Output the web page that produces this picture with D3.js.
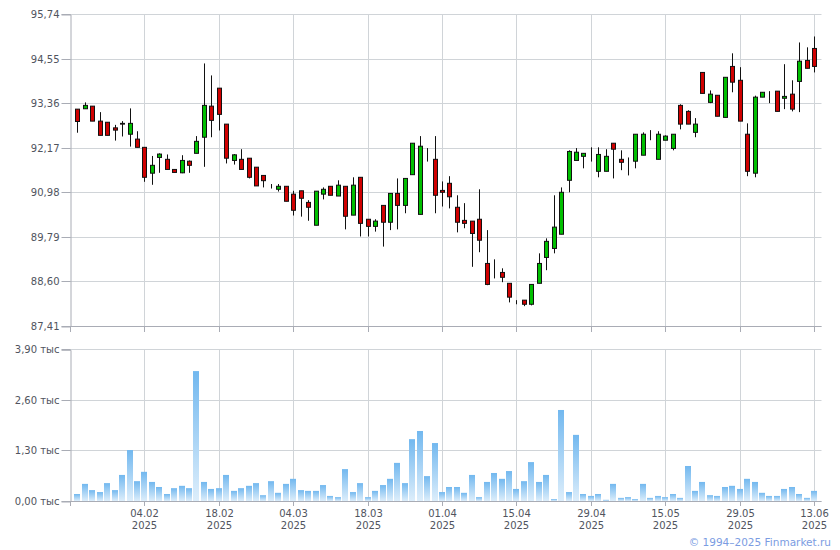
<!DOCTYPE html>
<html>
<head>
<meta charset="utf-8">
<script src="https://cdn.jsdelivr.net/npm/d3@7"></script>
<style>
html,body{margin:0;padding:0;background:#fff;}
svg{display:block;}
text{font-family:"DejaVu Sans",Verdana,sans-serif;}
</style>
</head>
<body>
<svg id="chart" width="840" height="550"></svg>
<script>
// ---- data (trading day index 1..100) ----
const opens = [93.20,93.21,93.28,92.88,92.85,92.70,92.82,92.53,92.40,92.18,
91.49,91.91,91.86,91.59,91.50,91.81,92.02,92.45,93.28,93.76,
92.80,91.83,91.86,91.89,91.65,91.43,91.20,91.06,91.14,90.93,
91.02,90.71,90.10,90.93,91.14,90.88,91.14,90.37,91.38,90.26,
90.07,90.63,90.18,90.95,90.63,91.45,90.39,91.82,91.86,91.03,
91.22,90.58,90.23,90.21,90.26,89.08,88.71,88.84,88.55,88.10,
88.10,87.99,88.55,89.24,89.48,89.86,91.30,91.83,91.94,92.18,
91.54,91.54,92.29,91.86,91.65,91.81,91.97,92.53,91.86,92.37,
92.15,93.30,93.14,92.58,94.18,93.38,93.57,92.98,94.34,93.97,
92.53,91.49,93.52,93.57,93.68,93.49,93.60,93.94,94.50,94.82];
const highs = [93.20,93.38,93.28,93.12,92.85,92.78,92.88,93.22,92.61,92.18,
91.95,92.02,91.99,91.59,91.97,91.83,92.48,94.42,94.10,93.76,
92.80,92.00,92.13,91.89,91.65,91.43,91.20,91.20,91.14,91.02,
91.02,90.77,91.01,91.11,91.14,91.30,91.14,91.38,91.38,90.26,
90.26,90.63,90.95,91.35,91.35,92.29,92.48,92.16,92.48,91.27,
91.41,90.90,90.69,90.21,91.06,89.97,89.19,88.95,88.55,88.10,
88.10,88.52,89.35,89.75,90.90,91.11,92.10,92.16,92.02,92.18,
92.18,92.13,92.29,92.10,91.91,92.53,92.58,92.64,92.61,92.50,
92.53,93.33,93.17,92.96,94.18,93.70,93.57,94.05,94.69,94.32,
92.82,93.56,93.65,93.68,93.68,94.40,93.97,94.98,94.85,95.14];
const lows = [92.57,93.21,92.88,92.50,92.50,92.36,92.47,92.20,92.18,91.26,
91.18,91.50,91.59,91.51,91.49,91.50,92.02,91.66,92.45,92.63,
91.75,91.72,91.59,91.35,91.15,91.11,91.08,91.00,90.74,90.36,
90.33,90.22,90.10,90.79,90.90,90.88,89.99,90.37,89.80,89.80,
89.93,89.53,89.97,89.99,90.42,91.45,90.39,91.80,90.42,90.60,
90.55,89.91,90.02,88.99,89.38,88.50,88.68,88.58,88.04,87.99,
87.94,87.96,88.55,88.90,89.35,89.86,90.98,91.83,91.62,91.80,
91.38,91.54,91.35,91.57,91.43,91.62,91.97,92.37,91.86,92.37,
92.10,92.66,92.80,92.45,93.62,93.36,93.01,92.98,93.65,92.88,
91.41,91.38,93.52,93.36,93.14,93.20,93.14,93.12,94.29,94.18];
const closes = [92.87,93.30,92.88,92.50,92.50,92.64,92.80,92.82,92.18,91.38,
91.70,92.00,91.59,91.51,91.83,91.70,92.34,93.30,92.90,93.06,
91.89,91.98,91.59,91.38,91.15,91.29,91.20,91.14,90.74,90.50,
90.82,90.58,91.01,91.06,90.90,91.17,90.34,91.17,90.15,90.07,
90.21,90.18,90.95,90.63,91.35,92.29,92.21,91.82,90.90,90.98,
90.86,90.18,90.15,89.88,89.70,88.52,88.71,88.71,88.18,88.10,
87.99,88.52,89.08,89.67,90.05,90.98,92.07,92.05,92.02,92.18,
91.99,91.94,92.13,91.78,91.65,92.53,92.53,92.53,92.53,92.48,
92.53,92.80,92.80,92.80,93.62,93.60,93.01,94.05,93.92,92.88,
91.54,93.52,93.65,93.57,93.14,93.54,93.20,94.48,94.29,94.34];
// volume, thousands
const volumes = [0.18,0.44,0.28,0.23,0.46,0.28,0.67,1.31,0.51,0.75,
0.49,0.36,0.18,0.33,0.39,0.33,3.34,0.49,0.31,0.33,
0.67,0.26,0.33,0.39,0.46,0.15,0.51,0.21,0.44,0.57,
0.28,0.26,0.26,0.41,0.13,0.10,0.82,0.23,0.46,0.10,
0.26,0.41,0.57,0.98,0.46,1.59,1.80,0.64,1.49,0.23,
0.36,0.36,0.21,0.67,0.10,0.49,0.72,0.57,0.77,0.31,
0.51,1.00,0.49,0.67,0.05,2.34,0.23,1.70,0.18,0.13,
0.18,0.03,0.44,0.08,0.10,0.05,0.44,0.08,0.13,0.10,
0.18,0.08,0.90,0.26,0.49,0.15,0.13,0.36,0.39,0.31,
0.57,0.49,0.21,0.13,0.13,0.31,0.36,0.18,0.08,0.26];
const tickDayIndex = [10,20,30,40,50,60,70,80,90,100];
const tickDates = ["04.02","18.02","04.03","18.03","01.04","15.04","29.04","15.05","29.05","13.06"];
const tickYear = "2025";
const priceTicks = [87.41,88.60,89.79,90.98,92.17,93.36,94.55,95.74];
const volumeTicks = [0,1.30,2.60,3.90];
const copyright = "© 1994–2025 Finmarket.ru";

// ---- layout ----
const L = 70, R = 821.5;
const P = {top:14, bottom:326};
const V = {top:349.3, bottom:501};
const gridColor = "#d0d4d8", axisColor = "#a9acb5", textColor = "#50545e";

const svg = d3.select("#chart");
const x = d3.scaleLinear().domain([0, 101]).range([L, R]);
const yP = d3.scaleLinear().domain([87.41, 95.74]).range([P.bottom, P.top]);
const yV = d3.scaleLinear().domain([0, 3.9]).range([V.bottom, V.top]);
const fmt = d3.format(".2f");
const comma = v => fmt(v).replace(".", ",");

const defs = svg.append("defs");
const grad = defs.append("linearGradient").attr("id","vg").attr("x1",0).attr("y1",0).attr("x2",0).attr("y2",1);
grad.append("stop").attr("offset","0%").attr("stop-color","#72b8ef");
grad.append("stop").attr("offset","100%").attr("stop-color","#ddeefb");

// gridlines
function hgrid(scale, ticks, cls){
  svg.append("g").selectAll("line").data(ticks).join("line")
    .attr("x1", L).attr("x2", R)
    .attr("y1", d => Math.round(scale(d))+0.5).attr("y2", d => Math.round(scale(d))+0.5)
    .attr("stroke", gridColor).attr("stroke-width",1);
}
function vgrid(top, bottom){
  svg.append("g").selectAll("line").data(tickDayIndex).join("line")
    .attr("x1", d => Math.round(x(d))+0.5).attr("x2", d => Math.round(x(d))+0.5)
    .attr("y1", top).attr("y2", bottom)
    .attr("stroke", gridColor).attr("stroke-width",1);
}
hgrid(yP, priceTicks);
hgrid(yV, volumeTicks);
vgrid(P.top, P.bottom);
vgrid(V.top, V.bottom);

// left axes
function leftAxis(scale, ticks, f){
  const g = svg.append("g").attr("transform", `translate(${L+0.5},0.5)`)
    .call(d3.axisLeft(scale).tickValues(ticks).tickSize(9).tickPadding(2).tickFormat(f));
  g.select(".domain").attr("stroke", axisColor);
  g.selectAll(".tick line").attr("stroke", axisColor);
  g.selectAll(".tick text").attr("fill", textColor).style("font-size","10px")
    .style("font-family","'DejaVu Sans',Verdana,sans-serif");
  g.selectAll(".tick").attr("transform", d => `translate(0,${Math.round(scale(d))})`);
  return g;
}
leftAxis(yP, priceTicks, comma);
leftAxis(yV, volumeTicks, d => comma(d) + " тыс");

// bottom axes lines + ticks
function bottomAxis(yPos, ticklen, labels){
  svg.append("line").attr("x1", L).attr("x2", R).attr("y1", yPos+0.5).attr("y2", yPos+0.5)
    .attr("stroke", axisColor);
  const tg = svg.append("g").selectAll("line").data([0].concat(tickDayIndex)).join("line")
    .attr("x1", d => Math.round(x(d))+0.5).attr("x2", d => Math.round(x(d))+0.5)
    .attr("y1", yPos).attr("y2", yPos+ticklen).attr("stroke", axisColor);
  if(labels){
    const lg = svg.append("g").selectAll("g").data(tickDayIndex).join("g")
      .attr("transform", d => `translate(${Math.round(x(d))+0.5},0)`);
    lg.append("text").attr("y", yPos+16).attr("text-anchor","middle")
      .attr("fill", textColor).style("font-size","10px").text((d,i)=>tickDates[i]);
    lg.append("text").attr("y", yPos+28).attr("text-anchor","middle")
      .attr("fill", textColor).style("font-size","10px").text(tickYear);
  }
}
bottomAxis(P.bottom, 6, false);
bottomAxis(V.bottom, 5, true);

// volume bars
const idx = d3.range(1, volumes.length+1);
const bw = 6;
svg.append("g").selectAll("rect").data(idx).join("rect")
  .attr("x", i => Math.round(x(i) - bw/2))
  .attr("width", bw)
  .attr("y", i => yV(volumes[i-1]))
  .attr("height", i => V.bottom - yV(volumes[i-1]))
  .attr("fill", "url(#vg)");

// candles
const cw = 4;
const cg = svg.append("g").selectAll("g").data(idx).join("g");
cg.append("line")
  .attr("x1", i => Math.round(x(i))+0.5).attr("x2", i => Math.round(x(i))+0.5)
  .attr("y1", i => yP(highs[i-1])).attr("y2", i => yP(lows[i-1]))
  .attr("stroke", "#111").attr("stroke-width", 1);
cg.append("rect")
  .attr("x", i => Math.round(x(i)) - cw/2 + 0.5)
  .attr("width", cw)
  .attr("y", i => yP(Math.max(opens[i-1], closes[i-1])))
  .attr("height", i => Math.abs(yP(opens[i-1]) - yP(closes[i-1])))
  .attr("fill", i => closes[i-1] > opens[i-1] ? "#00bf00" : (closes[i-1] < opens[i-1] ? "#d00000" : "#111"))
  .attr("stroke", "#111").attr("stroke-width", 1);

// copyright
svg.append("text").attr("x", 831).attr("y", 546).attr("text-anchor","end")
  .attr("fill", "#7b9ce2").style("font-size","10.5px").text(copyright);
</script>
</body>
</html>
